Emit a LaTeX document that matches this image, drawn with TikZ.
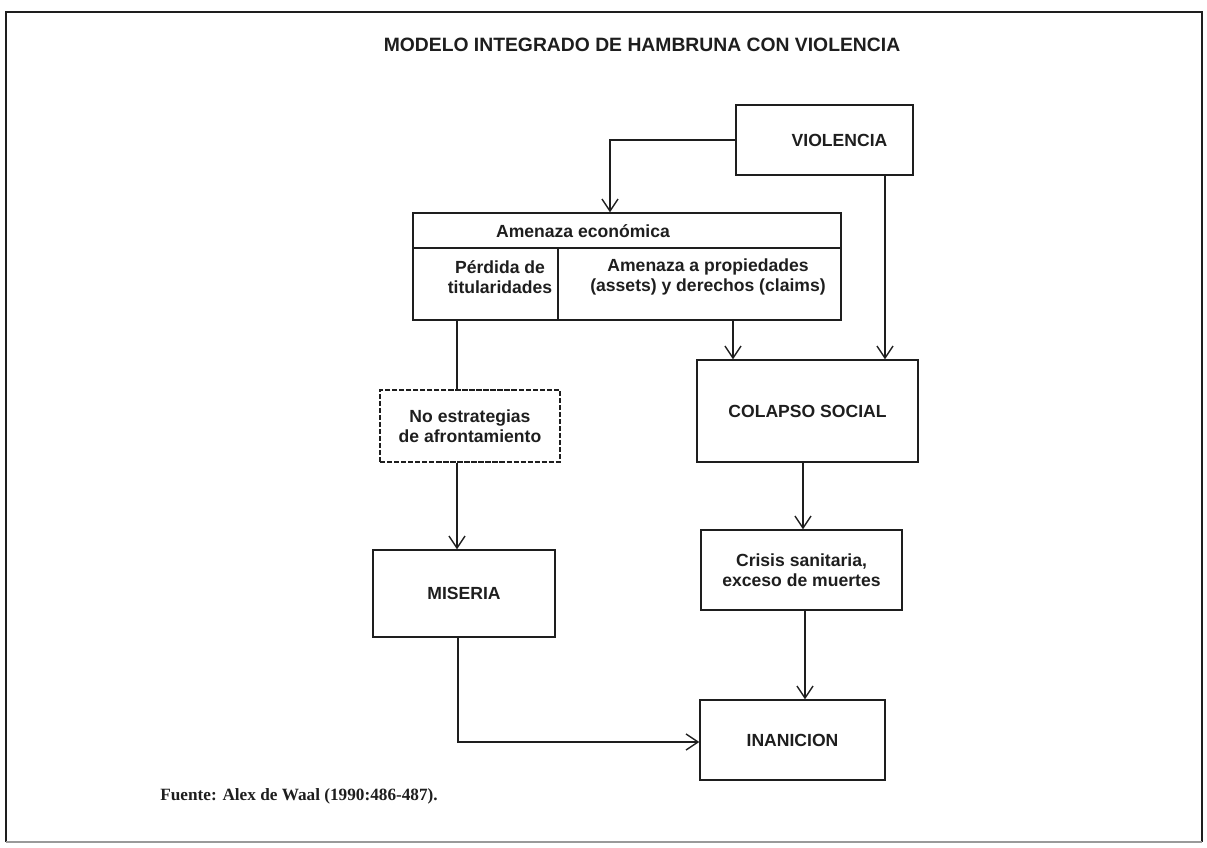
\documentclass[tikz,border=0pt]{standalone}
\usepackage{fontspec}
\setmainfont{Liberation Serif}
\setsansfont{Liberation Sans}
\usetikzlibrary{arrows.meta, positioning, calc}
\definecolor{InkBlack}{HTML}{1E1E1E}
\definecolor{ScanGray}{HTML}{9A9A9A}

\begin{document}
\begin{tikzpicture}[
    x=0.02cm, y=-0.02cm,
    box/.style={rectangle, draw=InkBlack, line width=0.8pt, inner sep=2pt,
                text=InkBlack, font=\sffamily\bfseries\fontsize{10}{11.5}\selectfont,
                align=center},
    cell/.style={inner sep=0pt, text=InkBlack, align=center,
                 font=\sffamily\bfseries\fontsize{10}{11.5}\selectfont},
    link/.style={draw=InkBlack, line width=0.8pt},
    arr/.style={link, -{Straight Barb[length=2.4mm, width=3.2mm, line width=0.8pt]}}
]
    % page frame and margins
    \useasboundingbox (0,0) rectangle (1207,848);
    \draw[InkBlack, line width=1.4pt] (6,842) -- (6,12) -- (1202,12) -- (1202,842);
    \draw[ScanGray, line width=0.8pt] (6,842) -- (1202,842);

    \node[cell, font=\sffamily\bfseries\fontsize{11}{13}\selectfont] (title) at (642,45)
        {MODELO INTEGRADO DE HAMBRUNA CON VIOLENCIA};

    % boxes
    \node[box, minimum width=3.54cm, minimum height=1.4cm] (viol) at (824.5,140) {\hspace{0.6cm}VIOLENCIA};
    \node[box, minimum width=8.56cm, minimum height=2.14cm] (amen) at (627,266.5) {};
    \node[box, dash pattern=on 3pt off 1pt, minimum width=3.6cm, minimum height=1.44cm]
        (noest) at (470,426) {No estrategias\\de afrontamiento};
    \node[box, minimum width=3.64cm, minimum height=1.74cm] (mis) at (464,593.5) {MISERIA};
    \node[box, minimum width=4.42cm, minimum height=2.04cm] (colap) at (807.5,411) {COLAPSO SOCIAL};
    \node[box, minimum width=4.02cm, minimum height=1.6cm] (crisis) at (801.5,570)
        {Crisis sanitaria,\\exceso de muertes};
    \node[box, minimum width=3.7cm, minimum height=1.6cm] (inan) at (792.5,740) {INANICION};

    % table inside the economic threat box
    \coordinate (split) at (558,248);
    \draw[link] (split -| amen.west) -- (split -| amen.east);
    \draw[link] (split) -- (split |- amen.south);
    \node[cell] (amtop) at (583,231) {Amenaza económica};
    \node[cell] (perd) at (500,277) {Pérdida de\\titularidades};
    \node[cell] (prop) at (708,277) {Amenaza a propiedades\\(assets) y derechos (claims)};

    % connectors
    \coordinate (vbend) at (610,140);
    \draw[arr] (viol.west) -- (vbend) -- (vbend |- amen.north);
    \draw[arr] (viol.south -| 885,0) -- (colap.north -| 885,0);
    \draw[arr] (amen.south -| 733,0) -- (colap.north -| 733,0);
    \draw[link] (amen.south -| 457,0) -- (noest.north -| 457,0);
    \draw[arr] (noest.south -| 457,0) -- (mis.north -| 457,0);
    \draw[arr] (colap.south -| 803,0) -- (crisis.north -| 803,0);
    \draw[arr] (crisis.south -| 805,0) -- (inan.north -| 805,0);
    \draw[arr] (mis.south -| 458,0) |- (inan.west |- 0,742);

    \node[anchor=west, inner sep=0pt, text=InkBlack,
          font=\rmfamily\bfseries\fontsize{9.8}{11}\selectfont] (src) at (160,796)
        {Fuente: Alex de Waal (1990:486-487).};
\end{tikzpicture}
\end{document}
